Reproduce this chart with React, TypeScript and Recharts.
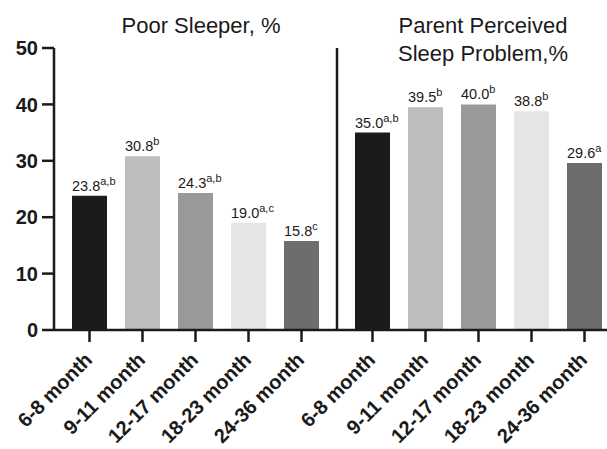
import { BarChart, Bar, XAxis, YAxis, Cell, LabelList } from "recharts";

const categories = ["6-8 month", "9-11 month", "12-17 month", "18-23 month", "24-36 month"];
const poorSleeper = [23.8, 30.8, 24.3, 19.0, 15.8];
const poorSleeperSup = ["a,b", "b", "a,b", "a,c", "c"];
const parentProblem = [35.0, 39.5, 40.0, 38.8, 29.6];
const parentProblemSup = ["a,b", "b", "b", "b", "a"];
const yTicks = [0, 10, 20, 30, 40, 50];
const barColors = ["#1b1b1b", "#bebebe", "#999999", "#e4e6e5", "#6d6d6d"];

const FONT = '"Liberation Sans", Arial, Helvetica, sans-serif';
const INK = "#1a1a1a";
const AXIS_W = 2.5;

const poorData = categories.map((c, i) => ({ category: c, value: poorSleeper[i] }));
const parentData = categories.map((c, i) => ({ category: c, value: parentProblem[i] }));

function MonthTick({ x, y, payload }: any) {
  return (
    <g transform={`translate(${x + 4},${y + 17})`}>
      <text textAnchor="end" transform="rotate(-45)" fontFamily={FONT} fontSize={20} fontWeight="bold" fill={INK}>
        {payload.value}
      </text>
    </g>
  );
}

const makeLabel = (sups: string[]) => (props: any) => {
  const { x, y, value, index } = props;
  return (
    <text x={x} y={y - 5} fontFamily={FONT} fontSize={14.5} fill={INK}>
      {Number(value).toFixed(1)}
      <tspan dy={-6} fontSize={11}>{sups[index]}</tspan>
    </text>
  );
};

const CHART_H = 449;

function Panel({ data, sups, showY }: { data: any[]; sups: string[]; showY: boolean }) {
  // second panel gets room on its left so the rotated labels are not clipped
  const left = showY ? 0 : 60;
  return (
    <BarChart
      width={showY ? 337 : 344}
      height={CHART_H}
      data={data}
      margin={{ top: 48, right: 0, bottom: 0, left }}
      barSize={35}
    >
      <XAxis
        dataKey="category"
        padding={{ left: 9, right: 9 }}
        height={CHART_H - 330}
        axisLine={{ stroke: INK, strokeWidth: AXIS_W }}
        tickLine={{ stroke: INK, strokeWidth: AXIS_W }}
        tickSize={12}
        tickMargin={2}
        interval={0}
        tick={<MonthTick />}
      />
      {showY ? (
        <YAxis
          domain={[0, 50]}
          ticks={yTicks}
          width={54}
          axisLine={{ stroke: INK, strokeWidth: AXIS_W }}
          tickLine={{ stroke: INK, strokeWidth: AXIS_W }}
          tickSize={12}
          tickMargin={4}
          tick={{ fontFamily: FONT, fontSize: 20, fontWeight: "bold", fill: INK }}
        />
      ) : (
        <YAxis
          domain={[0, 50]}
          ticks={yTicks}
          width={1}
          tick={false}
          tickLine={false}
          axisLine={{ stroke: INK, strokeWidth: AXIS_W }}
        />
      )}
      <Bar dataKey="value" isAnimationActive={false}>
        {data.map((_, i) => (
          <Cell key={i} fill={barColors[i]} />
        ))}
        <LabelList dataKey="value" content={makeLabel(sups)} />
      </Bar>
    </BarChart>
  );
}

export default function App() {
  return (
    <div style={{ position: "fixed", left: 0, top: 0, width: 607, height: 449, overflow: "hidden", background: "#fff" }}>
      <div style={{ position: "absolute", left: 0, top: 0 }}>
        <Panel data={poorData} sups={poorSleeperSup} showY />
      </div>
      <div style={{ position: "absolute", left: 276, top: 0 }}>
        <Panel data={parentData} sups={parentProblemSup} showY={false} />
      </div>
      <svg width={607} height={449} style={{ position: "absolute", left: 0, top: 0, pointerEvents: "none" }}>
        <g fontFamily={FONT} fontSize={22} fill={INK} textAnchor="middle">
          <text x={201} y={33}>Poor Sleeper, %</text>
          <text x={483} y={33}>Parent Perceived</text>
          <text x={483} y={61}>Sleep Problem,%</text>
        </g>
      </svg>
    </div>
  );
}
